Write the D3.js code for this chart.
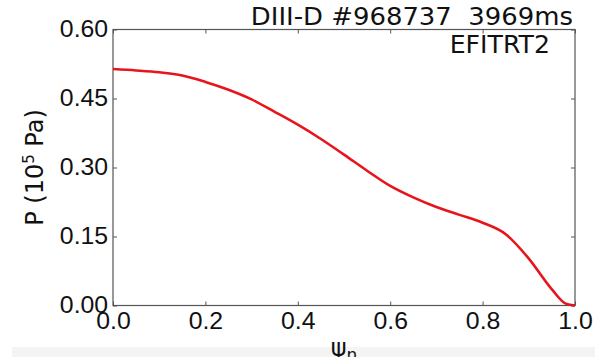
<!DOCTYPE html>
<html>
<head>
<meta charset="utf-8">
<script src="https://cdn.jsdelivr.net/npm/d3@7"></script>
<style>
  body { margin: 0; background: #fff; }
  svg { display: block; font-family: "DejaVu Sans", sans-serif; }
</style>
</head>
<body>
<div id="chart"></div>
<script>
// --- Data ---
const psiN = [0, 0.05, 0.1, 0.15, 0.2, 0.25, 0.3, 0.35, 0.4, 0.45, 0.5, 0.55, 0.6, 0.65, 0.7, 0.75, 0.8, 0.85, 0.9, 0.95, 0.98, 1.0];
const pressure = [0.514, 0.511, 0.507, 0.500, 0.486, 0.469, 0.448, 0.421, 0.393, 0.362, 0.328, 0.293, 0.260, 0.235, 0.214, 0.197, 0.180, 0.155, 0.102, 0.035, 0.004, 0.0];
const xTicks = [0, 0.2, 0.4, 0.6, 0.8, 1.0];
const yTicks = [0, 0.15, 0.30, 0.45, 0.60];
const titleText = "DIII-D #968737  3969ms";
const codeText = "EFITRT2";

const width = 595, height = 357;
const margin = { top: 29.5, right: 20, bottom: 51.5, left: 113 };
const plotW = width - margin.left - margin.right;
const plotH = height - margin.top - margin.bottom;
const stretch = 1.08; // the source image is a little wider than tall

const svg = d3.select("#chart").append("svg")
    .attr("width", width)
    .attr("height", height);

// faint strip along the bottom edge of the original image
svg.append("rect")
    .attr("x", 12).attr("y", 347)
    .attr("width", width - 12).attr("height", height - 347)
    .attr("fill", "#f4f4f4");

const x = d3.scaleLinear().domain([0, 1]).range([0, plotW]);
const y = d3.scaleLinear().domain([0, 0.6]).range([plotH, 0]);

const g = svg.append("g").attr("transform", `translate(${margin.left},${margin.top})`);

// --- Axes (ticks pointing inward on all sides) ---
const axisColor = "#555";
function styleAxis(sel) {
    sel.selectAll(".domain").remove();
    sel.selectAll(".tick line").attr("stroke", axisColor).attr("stroke-width", 1);
    sel.selectAll("text").attr("fill", "#111").style("font-size", "23px")
        .attr("transform", `scale(${stretch},1)`);
}

g.append("g")
    .attr("transform", `translate(0,${plotH})`)
    .call(d3.axisBottom(x).tickValues(xTicks).tickFormat(d3.format(".1f")).tickSizeInner(-4))
    .call(styleAxis)
    .selectAll("text").attr("dy", "0.71em").attr("y", 7);

g.append("g")
    .call(d3.axisTop(x).tickValues(xTicks).tickFormat("").tickSizeInner(-4))
    .call(styleAxis);

g.append("g")
    .call(d3.axisLeft(y).tickValues(yTicks).tickFormat(d3.format(".2f")).tickSizeInner(-4).tickPadding(4.5))
    .call(styleAxis);

g.append("g")
    .attr("transform", `translate(${plotW},0)`)
    .call(d3.axisRight(y).tickValues(yTicks).tickFormat("").tickSizeInner(-4))
    .call(styleAxis);

// frame
g.append("rect")
    .attr("width", plotW).attr("height", plotH)
    .attr("fill", "none")
    .attr("stroke", axisColor)
    .attr("stroke-width", 1.2);

// --- Pressure profile ---
const line = d3.line()
    .x((d, i) => x(psiN[i]))
    .y(d => y(d))
    .curve(d3.curveMonotoneX);

g.append("path")
    .datum(pressure)
    .attr("fill", "none")
    .attr("stroke", "#e8141c")
    .attr("stroke-width", 2.6)
    .attr("d", line);

// --- Texts ---
svg.append("text")
    .attr("transform", `translate(573,25) scale(${stretch},1)`)
    .attr("text-anchor", "end")
    .style("font-size", "24px")
    .style("white-space", "pre")
    .attr("fill", "#111")
    .text(titleText);

svg.append("text")
    .attr("transform", `translate(550,53) scale(1.05,1)`)
    .attr("text-anchor", "end")
    .style("font-size", "24px")
    .attr("fill", "#111")
    .text(codeText);

const yLab = svg.append("text")
    .attr("transform", `translate(43,${margin.top + plotH / 2}) rotate(-90)`)
    .attr("text-anchor", "middle")
    .style("font-size", "24px")
    .attr("fill", "#111");
yLab.append("tspan").text("P (10");
yLab.append("tspan").attr("dy", -9).style("font-size", "15px").text("5");
yLab.append("tspan").attr("dy", 9).text(" Pa)");

const xLab = svg.append("text")
    .attr("x", margin.left + plotW / 2).attr("y", 356)
    .attr("text-anchor", "middle")
    .style("font-size", "24px")
    .attr("fill", "#111");
xLab.append("tspan").text("ψ");
xLab.append("tspan").attr("dy", 5).style("font-size", "17px").text("n");
</script>
</body>
</html>
